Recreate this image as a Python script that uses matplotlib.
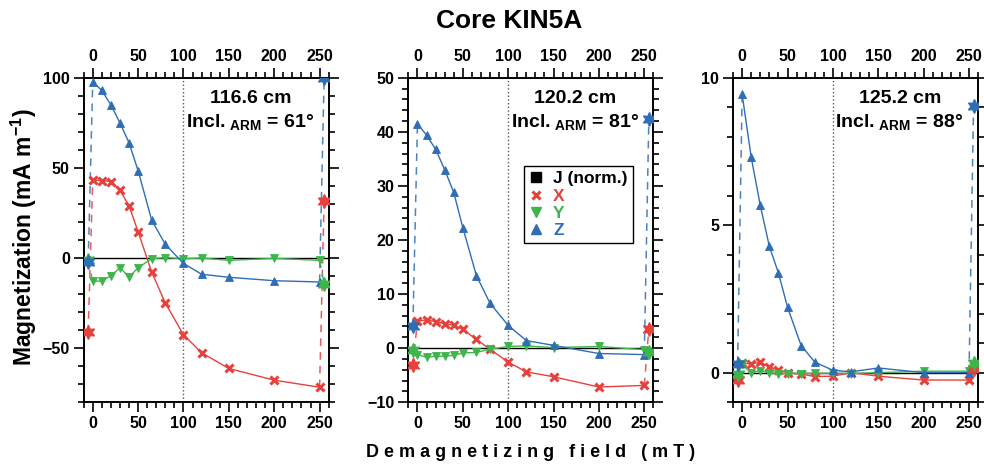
import numpy as np
import matplotlib
matplotlib.use('Agg')
import matplotlib.pyplot as plt
from matplotlib.lines import Line2D
from matplotlib.ticker import MultipleLocator

plt.rcParams['font.family'] = ['Liberation Sans', 'DejaVu Sans']
plt.rcParams['font.weight'] = 'bold'
plt.rcParams['mathtext.default'] = 'regular'

# AF demagnetization steps (mT)
fields = [0, 10, 20, 30, 40, 50, 65, 80, 100, 120, 150, 200, 250]
# NRM before treatment and ARM after, plotted just outside the AF steps
nrm_field = -5
arm_field = 255

depths = ['116.6 cm', '120.2 cm', '125.2 cm']
incl_arm = [61, 81, 88]

# 116.6 cm
x_116 = [43.3, 43.0, 42.4, 37.6, 29.0, 14.6, -7.8, -25.0, -42.6, -52.6, -61.3, -67.8, -71.7]
y_116 = [-12.8, -12.8, -9.8, -5.4, -10.5, -5.4, -0.4, 0.2, -0.4, 0.0, -1.3, -0.2, -1.3]
z_116 = [97.8, 93.0, 85.0, 75.0, 64.0, 48.5, 21.0, 7.6, -3.0, -9.0, -10.7, -12.6, -13.3]
nrm_116 = [-41.3, -1.0, -2.4]
arm_116 = [31.7, -14.4, 100.0]

# 120.2 cm
x_120 = [5.0, 5.2, 4.9, 4.5, 4.2, 3.5, 1.6, -0.2, -2.6, -4.4, -5.3, -7.2, -6.9]
y_120 = [-1.2, -1.7, -1.5, -1.5, -1.35, -0.9, -0.8, -0.2, 0.3, 0.4, 0.1, 0.3, -0.3]
z_120 = [41.5, 39.4, 36.8, 33.0, 28.8, 22.3, 13.4, 8.3, 4.2, 1.4, 0.5, -1.0, -1.2]
nrm_120 = [-3.2, -0.4, 4.1]
arm_120 = [3.6, -0.7, 42.3]

# 125.2 cm
x_125 = [0.32, 0.30, 0.35, 0.20, 0.09, 0.0, -0.05, -0.13, -0.12, 0.0, -0.12, -0.25, -0.25]
y_125 = [0.28, 0.0, 0.07, 0.0, -0.04, -0.03, -0.03, -0.02, -0.02, -0.03, 0.0, 0.05, 0.05]
z_125 = [9.44, 7.3, 5.67, 4.28, 3.38, 2.22, 0.92, 0.36, 0.08, 0.03, 0.16, 0.0, 0.0]
nrm_125 = [-0.24, -0.05, 0.3]
arm_125 = [0.13, 0.33, 9.05]

ylims = [(-80, 100), (-10, 50), (-1, 10)]
ymajor = [50, 10, 5]
yminor = [10, 2, 1]

RED = '#e5413d'
GREEN = '#3cb54a'
BLUE = '#2f6db5'
STAR = (6, 1, 0)

# marker style per component: (marker, size, edge width)
MK_X = ('x', 6, 2.2)
MK_Y = ('v', 6, 0.6)
MK_Z = ('^', 6, 0.6)


def draw_component(ax, values, nrm, arm, color, mk):
    marker, msize, mew = mk
    # AF steps
    ax.plot(fields, values, color=color, lw=1.0, marker=marker,
            markersize=msize, markeredgewidth=mew, zorder=4)
    # dashed links to the NRM / ARM points
    ax.plot([nrm_field, fields[0]], [nrm, values[0]], color=color, lw=1.1,
            ls=(0, (5, 4)), alpha=0.85, zorder=3)
    ax.plot([fields[-1], arm_field], [values[-1], arm], color=color, lw=1.1,
            ls=(0, (5, 4)), alpha=0.85, zorder=3)
    ax.plot([nrm_field, arm_field], [nrm, arm], ls='none', marker=STAR,
            color=color, markersize=10, zorder=5)


fig = plt.figure(figsize=(9.84, 4.66), dpi=100)
lefts = [0.085, 0.415, 0.745]
axes = [fig.add_axes([l, 0.137, 0.249, 0.696]) for l in lefts]

series = [
    (x_116, y_116, z_116, nrm_116, arm_116),
    (x_120, y_120, z_120, nrm_120, arm_120),
    (x_125, y_125, z_125, nrm_125, arm_125),
]

for i, ax in enumerate(axes):
    xs, ys, zs, nrm, arm = series[i]
    ax.axhline(0, color='black', lw=1.0, zorder=1)
    ax.axvline(100, color='0.35', ls=':', lw=1.0, zorder=1)

    draw_component(ax, xs, nrm[0], arm[0], RED, MK_X)
    draw_component(ax, ys, nrm[1], arm[1], GREEN, MK_Y)
    draw_component(ax, zs, nrm[2], arm[2], BLUE, MK_Z)

    ax.set_xlim(-10, 260)
    ax.set_ylim(*ylims[i])
    ax.xaxis.set_major_locator(MultipleLocator(50))
    ax.xaxis.set_minor_locator(MultipleLocator(10))
    ax.yaxis.set_major_locator(MultipleLocator(ymajor[i]))
    ax.yaxis.set_minor_locator(MultipleLocator(yminor[i]))
    ax.tick_params(which='both', direction='out', top=True, right=True,
                   labeltop=True, width=1.2, labelsize=11.5, pad=3)
    ax.tick_params(which='major', length=7)
    ax.tick_params(which='minor', length=4)
    for sp in ax.spines.values():
        sp.set_linewidth(1.4)
    for lab in ax.get_xticklabels() + ax.get_yticklabels():
        lab.set_fontweight('bold')

    ax.text(0.68, 0.935, depths[i], transform=ax.transAxes, ha='center',
            va='center', fontsize=14, fontweight='bold')
    ax.text(0.68, 0.865, 'Incl.$_{\\ ARM}$ = %d°' % incl_arm[i],
            transform=ax.transAxes, ha='center', va='center', fontsize=14,
            fontweight='bold')

# legend in the middle panel
handles = [
    Line2D([], [], ls='none', marker='s', color='black', markersize=7),
    Line2D([], [], ls='none', marker='x', color=RED, markersize=6,
           markeredgewidth=2.2),
    Line2D([], [], ls='none', marker='v', color=GREEN, markersize=7),
    Line2D([], [], ls='none', marker='^', color=BLUE, markersize=7),
]
leg = axes[1].legend(handles, ['J (norm.)', 'X', 'Y', 'Z'],
                     loc='upper left', bbox_to_anchor=(0.47, 0.728),
                     fancybox=False, framealpha=1, edgecolor='black',
                     handlelength=0.8, handletextpad=0.6, borderpad=0.3,
                     borderaxespad=0, labelspacing=0.12,
                     prop={'size': 12.5, 'weight': 'bold'})
leg.get_frame().set_linewidth(1.0)
for txt, c in zip(leg.get_texts(), ['black', RED, GREEN, BLUE]):
    txt.set_color(c)

fig.text(0.517, 0.955, 'Core KIN5A', ha='center', va='center',
         fontsize=19, fontweight='bold')
fig.text(0.024, 0.49, 'Magnetization (mA m$^{-1}$)', rotation=90,
         ha='center', va='center', fontsize=16.5, fontweight='bold')
xlabel = ' '.join('Demagnetizing field (mT)')
fig.text(0.539, 0.03, xlabel, ha='center', va='center', fontsize=13,
         fontweight='bold')

fig.savefig('out.png', dpi=100)
